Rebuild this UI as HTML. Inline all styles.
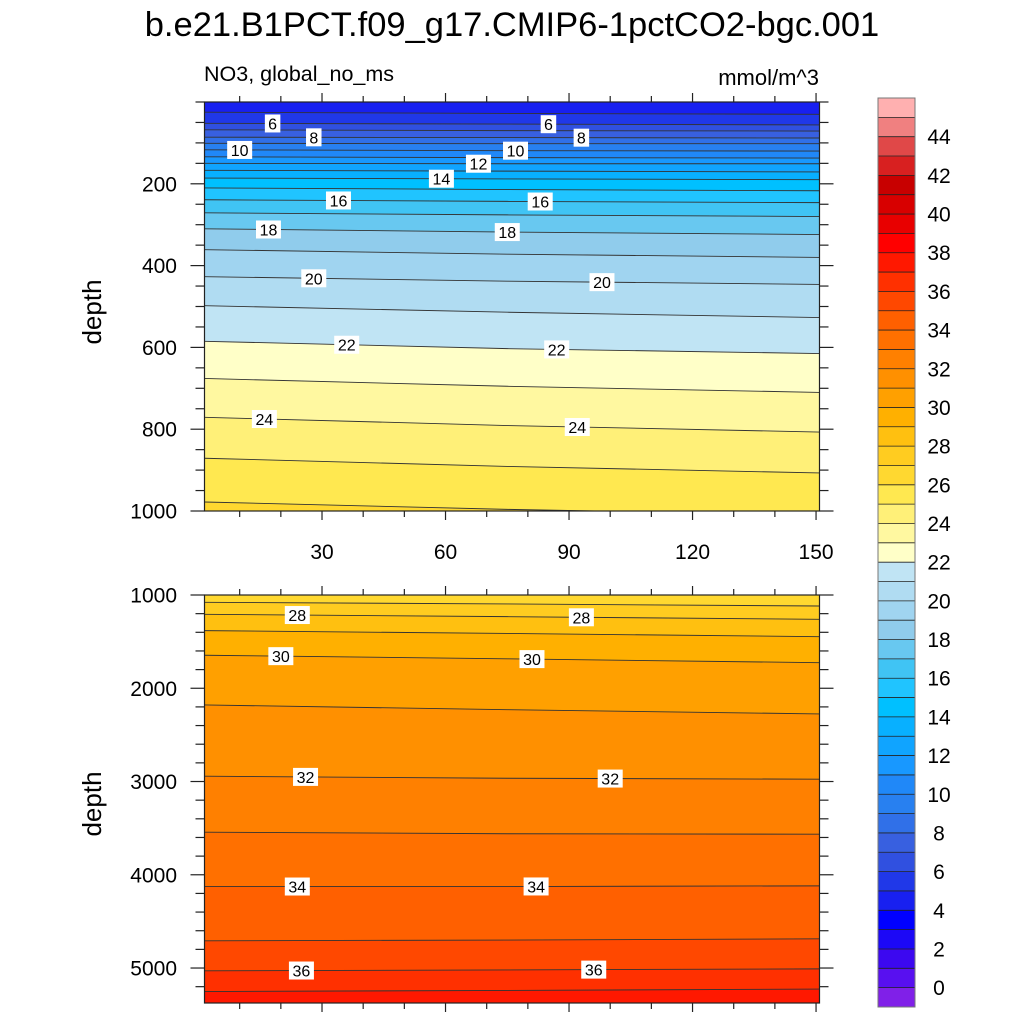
<!DOCTYPE html>
<html><head><meta charset="utf-8">
<style>
html,body{margin:0;padding:0;background:#fff;}
svg{display:block;font-family:"Liberation Sans",sans-serif;}
</style></head>
<body>
<svg id="chart" width="1024" height="1024" viewBox="0 0 1024 1024" xmlns="http://www.w3.org/2000/svg">
<text x="512" y="36" font-size="34.5" text-anchor="middle">b.e21.B1PCT.f09_g17.CMIP6-1pctCO2-bgc.001</text>
<text x="204" y="81" font-size="21.5">NO3, global_no_ms</text>
<text x="819" y="85" font-size="22" text-anchor="end">mmol/m^3</text>
<text transform="translate(101,312) rotate(-90)" font-size="26" text-anchor="middle">depth</text>
<text transform="translate(101,804) rotate(-90)" font-size="26" text-anchor="middle">depth</text>
<g id="top"></g>
<g id="bot"></g>
<g id="cbar"></g>
</svg>
<script>
// ---- data ----
const years = [1, 75, 150];
const topLevels = [5,6,7,8,9,10,11,12,13,14,15,16,17,18,19,20,21,22,23,24,25,26];
const topDepthY1   = [25,52,68,86,101,117,134,150,167,186,210,239,271,310,361,427,498,585,676,771,871,978];
const topDepthY75  = [28,54,70,87,102,119,136,151,169,188,214,243,276,318,372,438,514,603,695,791,891,996];
const topDepthY150 = [30,56,71,88,102,120,137,151,171,190,217,246,280,324,380,446,527,615,710,807,907,1010];
const botLevels = [27,28,29,30,31,32,33,34,35,36,37];
const botDepthY1   = [1078,1207,1382,1646,2179,2943,3543,4126,4708,5030,5252];
const botDepthY75  = [1096,1232,1412,1684,2230,2965,3560,4126,4700,5020,5240];
const botDepthY150 = [1118,1261,1447,1726,2275,2975,3565,4119,4687,5009,5226];
// colors for intervals: index 0 = <0, index k = [k-1,k), last = >45
const cbColors = ["#8020E8","#5810F0","#3C08F0","#1C08F6","#0000FF","#1820F0","#2038E8","#3050E0","#3860E0","#3070E8","#2880F0","#2088F8","#1898FF","#10A4FF","#08B0FF","#00C0FF","#20C4FF","#40C4F4","#68C8F0","#90CCEC","#A0D4F0","#B0DCF2","#C0E4F4","#FFFFC8","#FFF8A0","#FFF078","#FFE850","#FFD830","#FFCC20","#FFC010","#FFB000","#FFA000","#FF9000","#FF8000","#FF7000","#FF6000","#FF4800","#FF3000","#FF1800","#FF0000","#E80000","#D80000","#C80000","#D82020","#E04848","#F08080","#FFB0B0"];
const cbTickLabels = [0,2,4,6,8,10,12,14,16,18,20,22,24,26,28,30,32,34,36,38,40,42,44];
const xTickLabels = [30,60,90,120,150];
const topYTicks = [200,400,600,800,1000];
const botYTicks = [1000,2000,3000,4000,5000];
const topLabelLevels = [6,8,10,12,14,16,18,20,22,24, 6,8,10,16,18,20,22,24];
const topLabelYears  = [18,28,10,68,59,34,17,28,36,16, 85,93,77,83,75,98,87,92];
const botLabelLevels = [28,30,32,34,36, 28,30,32,34,36];
const botLabelYears  = [24,20,26,24,25, 93,81,100,82,96];

const NS="http://www.w3.org/2000/svg";
function mk(tag,attrs,parent){const e=document.createElementNS(NS,tag);for(const k in attrs)e.setAttribute(k,attrs[k]);parent.appendChild(e);return e;}
const X0=204.5,X1=819.5;
const xs=y=>198.5+(y)*4.117;
function panel(g,levels,cols,dTop,dBot,yTop,yBot,topColorIdx,labLev,labYr,yTicks,minorStep,showX){
  const ys=d=>yTop+(d-dTop)*(yBot-yTop)/(dBot-dTop);
  const clip="clip"+g.id;
  const cp=mk("clipPath",{id:clip},g);mk("rect",{x:X0,y:yTop,width:X1-X0,height:yBot-yTop},cp);
  const inner=mk("g",{"clip-path":"url(#"+clip+")"},g);
  const xA=[X0,xs(years[1]),X1];
  const line=i=>cols.map((c,j)=>[xA[j],ys(c[i])]);
  const bg=mk("rect",{x:X0,y:yTop,width:X1-X0,height:yBot-yTop,fill:cbColors[topColorIdx]},inner);
  
  
  for(let i=0;i<levels.length;i++){
    const pts=line(i);
    const d="M"+pts.map(p=>p[0]+","+p[1]).join("L")+"L"+X1+","+(yBot+50)+"L"+X0+","+(yBot+50)+"Z";
    const p=mk("path",{d:d,fill:cbColors[levels[i]+1]},inner);
    
    
  }
  for(let i=0;i<levels.length;i++){
    const pts=line(i);
    const l=mk("polyline",{points:pts.map(p=>p.join(",")).join(" "),fill:"none",stroke:"#333","stroke-width":0.9},inner);
    
    
  }
  for(let k=0;k<labLev.length;k++){
    const i=levels.indexOf(labLev[k]);if(i<0)continue;
    const yr=labYr[k];
    let d;
    if(yr<=years[1]){const t=(yr-years[0])/(years[1]-years[0]);d=cols[0][i]+t*(cols[1][i]-cols[0][i]);}
    else{const t=(yr-years[1])/(years[2]-years[1]);d=cols[1][i]+t*(cols[2][i]-cols[1][i]);}
    const cx=xs(yr),cy=ys(d);
    const txt=String(labLev[k]);
    const w=txt.length*9.5+6;
    const r=mk("rect",{x:cx-w/2,y:cy-9,width:w,height:18,fill:"#fff"},g);
    
    
    const t=mk("text",{x:cx,y:cy+6,"font-size":16,"text-anchor":"middle"},g);t.textContent=txt;
    
    
  }
  const fr=mk("rect",{x:X0,y:yTop,width:X1-X0,height:yBot-yTop,fill:"none",stroke:"#222","stroke-width":1.2},g);
  
  
  for(let yr=10;yr<=150;yr+=10){
    const x=xs(yr);const maj=yr%30===0;const L=maj?9:6;
    mk("line",{x1:x,x2:x,y1:yBot,y2:yBot+L,stroke:"#222","stroke-width":1.2},g);
    mk("line",{x1:x,x2:x,y1:yTop,y2:yTop-L,stroke:"#222","stroke-width":1.2},g);
  }
  if(showX){xTickLabels.forEach(v=>{const t=mk("text",{x:xs(v),y:yBot+48,"font-size":21,"text-anchor":"middle"},g);t.textContent=v;
    
    });}
  for(let d=Math.ceil(dTop/minorStep)*minorStep;d<=dBot;d+=minorStep){
    const y=ys(d);const maj=yTicks.includes(d);const L=maj?14:9;
    mk("line",{x1:X0-L,x2:X0,y1:y,y2:y,stroke:"#222","stroke-width":1.2},g);
    mk("line",{x1:X1,x2:X1+L,y1:y,y2:y,stroke:"#222","stroke-width":1.2},g);
  }
  yTicks.forEach(v=>{const t=mk("text",{x:177,y:ys(v)+7.5,"font-size":21,"text-anchor":"end"},g);t.textContent=v;
    
    });
}
panel(document.getElementById("top"),topLevels,[topDepthY1,topDepthY75,topDepthY150],0,1000,102,511,5,topLabelLevels,topLabelYears,topYTicks,50,true);
panel(document.getElementById("bot"),botLevels,[botDepthY1,botDepthY75,botDepthY150],1000,5375,595,1003,27,botLabelLevels,botLabelYears,botYTicks,200,false);
const cb=document.getElementById("cbar");
const cbTop=98,cbBot=1007,n=cbColors.length,h=(cbBot-cbTop)/n;
for(let i=0;i<n;i++){
  const r=mk("rect",{x:878,y:cbBot-(i+1)*h,width:37,height:h+0.3,fill:cbColors[i]},cb);
  
  
  if(i>0) mk("line",{x1:878,x2:915,y1:cbBot-i*h,y2:cbBot-i*h,stroke:"#222","stroke-width":0.8},cb);
}
mk("rect",{x:878,y:cbTop,width:37,height:cbBot-cbTop,fill:"none",stroke:"#777","stroke-width":1},cb);
cbTickLabels.forEach(v=>{const y=cbBot-(v+1)*h;const t=mk("text",{x:939,y:y+7.5,"font-size":21,"text-anchor":"middle"},cb);t.textContent=v;
  
  });
</script>
</body></html>
